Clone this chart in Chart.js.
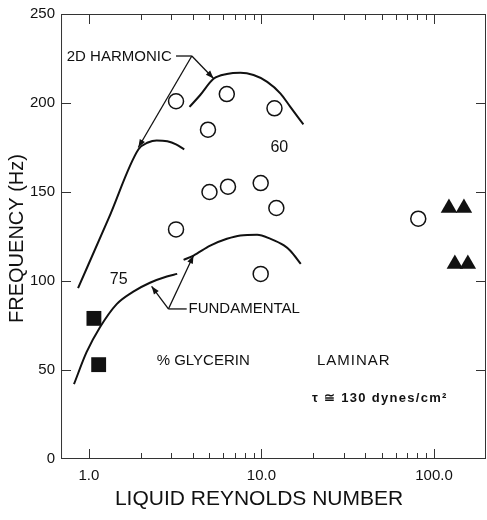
<!DOCTYPE html>
<html lang="en">
<head>
<meta charset="UTF-8" />
<title>Frequency vs Liquid Reynolds Number</title>
<script src="https://cdn.jsdelivr.net/npm/chart.js@4"></script>
<style>
  html, body { margin: 0; padding: 0; background: #fff; }
  #chart { display: block; }
</style>
</head>
<body>
<canvas id="chart" width="487" height="520"></canvas>
<script>
  // open circles - 60% glycerin
  const glyc60Re   = [3.2, 6.3, 11.9, 4.9, 5.0, 6.4, 9.9, 12.2, 3.2, 9.9, 81];
  const glyc60Freq = [201, 205, 197, 185, 150, 153, 155, 141, 129, 104, 135];
  // filled squares - 75% glycerin
  const glyc75Re   = [1.07, 1.14];
  const glyc75Freq = [79, 53];
  // filled triangles - laminar
  const laminarRe   = [122, 149, 132, 157];
  const laminarFreq = [141, 141, 109.5, 109.5];

  // drawn curves
  const fund75Re   = [0.82, 0.97, 1.16, 1.45, 1.81, 2.26, 2.83, 3.25];
  const fund75Freq = [42, 60, 74, 87, 94, 99, 102.5, 104];
  const harm75Re   = [0.866, 1.3, 1.94, 2.2, 2.47, 2.85, 3.2, 3.57];
  const harm75Freq = [96, 135, 174, 177.8, 179, 178.5, 176.8, 174];
  const harm60Re   = [3.83, 4.42, 5.28, 6.3, 7.55, 9.0, 10.8, 12.9, 14.7, 17.5];
  const harm60Freq = [197.8, 204.5, 213.6, 216.3, 217, 215.7, 211.9, 205.3, 197.8, 188];
  const fund60Re   = [3.54, 4.04, 5.05, 6.31, 7.55, 9.44, 11.3, 13.5, 14.7, 16.9];
  const fund60Freq = [111.9, 114.3, 119.9, 123.7, 125.6, 126, 123.7, 120, 117, 109.6];

  // axes
  const xLabelTicks = [1, 10, 100];
  const xMinorTicks = [2, 3, 4, 5, 6, 7, 8, 9, 20, 30, 40, 50, 60, 70, 80, 90];
  const yTicks = [50, 100, 150, 200];

  // labels and arrows (in data units)
  const notes = [
    { text: '2D HARMONIC', x: 0.745, y: 225.8, align: 'left' },
    { text: 'FUNDAMENTAL', x: 3.78, y: 84.3, align: 'left' },
    { text: '60', x: 12.7, y: 175, align: 'center', size: 16 },
    { text: '75', x: 1.49, y: 101, align: 'center', size: 16 },
    { text: '% GLYCERIN', x: 4.6, y: 55.2, align: 'center' },
    { text: 'LAMINAR', x: 34.3, y: 55.2, align: 'center', spacing: 1 },
    { text: 'τ ≅ 130 dynes/cm²', x: 48.5, y: 34.3, align: 'center', size: 13, bold: true, spacing: 1.3 }
  ];
  const arrows = [
    { from: [3.2, 226.4], to: [3.95, 226.4], head: false },
    { from: [3.95, 226.4], to: [1.935, 175], head: true },
    { from: [3.95, 226.4], to: [5.28, 213.8], head: true },
    { from: [3.69, 84.3], to: [2.89, 84.3], head: false },
    { from: [2.89, 84.3], to: [2.31, 97], head: true },
    { from: [2.89, 84.3], to: [4.04, 114.3], head: true }
  ];

  const FONT = "'Liberation Sans', Arial, sans-serif";
  const INK = '#111';

  const pts = (xs, ys) => xs.map((x, i) => ({ x: x, y: ys[i] }));

  const curve = (xs, ys) => ({
    data: pts(xs, ys),
    showLine: true,
    borderColor: INK,
    borderWidth: 2,
    pointRadius: 0,
    cubicInterpolationMode: 'monotone',
    fill: false
  });

  const noPad = s => { s.paddingLeft = 0; s.paddingRight = 0; s.paddingTop = 0; s.paddingBottom = 0; };

  const framePlugin = {
    id: 'frame',
    afterDraw(chart) {
      const ctx = chart.ctx;
      const a = chart.chartArea;
      const xs = chart.scales.x, ys = chart.scales.y;
      ctx.save();
      ctx.strokeStyle = '#333';
      ctx.lineWidth = 1;
      ctx.strokeRect(a.left + 0.5, a.top + 0.5, a.right - a.left - 1, a.bottom - a.top - 1);

      // inward ticks
      ctx.beginPath();
      const xTick = (v, len) => {
        const px = Math.round(xs.getPixelForValue(v)) + 0.5;
        ctx.moveTo(px, a.bottom); ctx.lineTo(px, a.bottom - len);
        ctx.moveTo(px, a.top); ctx.lineTo(px, a.top + len);
      };
      xLabelTicks.forEach(v => xTick(v, 10));
      xMinorTicks.forEach(v => xTick(v, 6));
      yTicks.forEach(v => {
        const py = Math.round(ys.getPixelForValue(v)) + 0.5;
        ctx.moveTo(a.left, py); ctx.lineTo(a.left + 10, py);
        ctx.moveTo(a.right, py); ctx.lineTo(a.right - 10, py);
      });
      ctx.stroke();

      // arrows
      ctx.strokeStyle = INK;
      ctx.fillStyle = INK;
      ctx.lineWidth = 1.3;
      arrows.forEach(ar => {
        const x1 = xs.getPixelForValue(ar.from[0]), y1 = ys.getPixelForValue(ar.from[1]);
        const x2 = xs.getPixelForValue(ar.to[0]), y2 = ys.getPixelForValue(ar.to[1]);
        ctx.beginPath();
        ctx.moveTo(x1, y1); ctx.lineTo(x2, y2);
        ctx.stroke();
        if (ar.head) {
          const ang = Math.atan2(y2 - y1, x2 - x1);
          const L = 8, W = 3;
          ctx.beginPath();
          ctx.moveTo(x2, y2);
          ctx.lineTo(x2 - L * Math.cos(ang) + W * Math.sin(ang), y2 - L * Math.sin(ang) - W * Math.cos(ang));
          ctx.lineTo(x2 - L * Math.cos(ang) - W * Math.sin(ang), y2 - L * Math.sin(ang) + W * Math.cos(ang));
          ctx.closePath();
          ctx.fill();
        }
      });

      // text notes
      ctx.textBaseline = 'middle';
      notes.forEach(n => {
        ctx.font = (n.bold ? 'bold ' : '') + (n.size || 15) + 'px ' + FONT;
        ctx.letterSpacing = (n.spacing || 0) + 'px';
        ctx.textAlign = n.align;
        ctx.fillText(n.text, xs.getPixelForValue(n.x), ys.getPixelForValue(n.y));
      });
      ctx.letterSpacing = '0px';

      // axis titles
      ctx.textAlign = 'center';
      ctx.font = '20px ' + FONT;
      ctx.save();
      ctx.translate(a.left - 44, (a.top + a.bottom) / 2 + 2);
      ctx.rotate(-Math.PI / 2);
      ctx.fillText('FREQUENCY (Hz)', 0, 0);
      ctx.restore();
      ctx.font = '21px ' + FONT;
      ctx.fillText('LIQUID REYNOLDS NUMBER', a.left + 198, a.bottom + 40);
      ctx.restore();
    }
  };

  new Chart(document.getElementById('chart'), {
    type: 'scatter',
    data: {
      datasets: [
        curve(fund75Re, fund75Freq),
        curve(harm75Re, harm75Freq),
        curve(harm60Re, harm60Freq),
        curve(fund60Re, fund60Freq),
        {
          data: pts(glyc60Re, glyc60Freq),
          pointStyle: 'circle',
          pointRadius: 7.5,
          borderWidth: 1.5,
          borderColor: INK,
          backgroundColor: '#fff'
        },
        {
          data: pts(glyc75Re, glyc75Freq),
          pointStyle: 'rect',
          pointRadius: 10.5,
          borderWidth: 0,
          backgroundColor: INK
        },
        {
          data: pts(laminarRe, laminarFreq),
          pointStyle: 'triangle',
          pointRadius: 9.5,
          borderWidth: 0,
          backgroundColor: INK
        }
      ]
    },
    options: {
      responsive: false,
      animation: false,
      devicePixelRatio: 1,
      layout: { autoPadding: false, padding: { left: 24, right: 1, top: 14, bottom: 27 } },
      plugins: { legend: { display: false }, tooltip: { enabled: false } },
      scales: {
        x: {
          type: 'logarithmic',
          min: 0.69,
          max: 200,
          grid: { display: false, drawTicks: false },
          border: { display: false },
          afterBuildTicks: scale => { scale.ticks = xLabelTicks.map(v => ({ value: v })); },
          afterFit: noPad,
          ticks: {
            color: INK,
            font: { family: FONT, size: 15 },
            padding: 8,
            maxRotation: 0,
            callback: v => Number(v).toFixed(1)
          }
        },
        y: {
          min: 0,
          max: 250,
          grid: { display: false, drawTicks: false },
          border: { display: false },
          afterFit: noPad,
          ticks: {
            stepSize: 50,
            color: INK,
            font: { family: FONT, size: 15 },
            padding: 6
          }
        }
      }
    },
    plugins: [framePlugin]
  });
</script>
</body>
</html>
